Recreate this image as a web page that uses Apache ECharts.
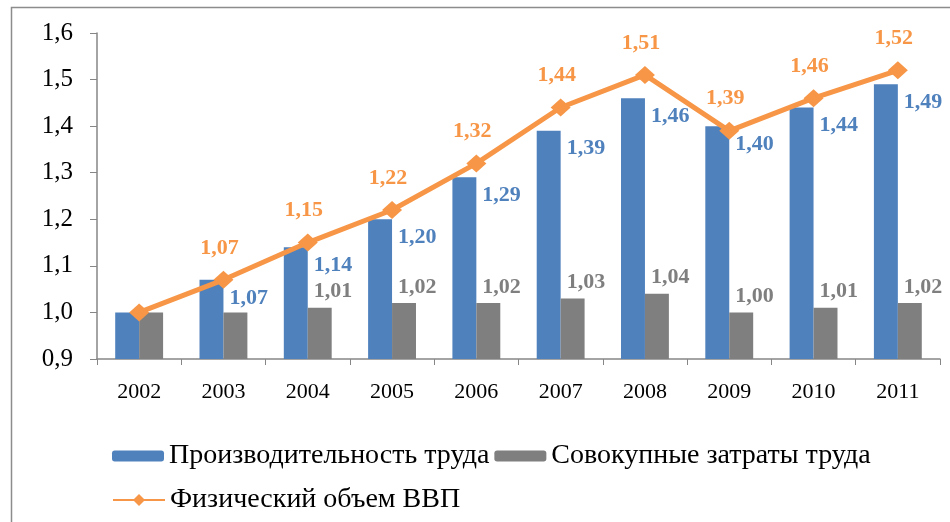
<!DOCTYPE html>
<html>
<head>
<meta charset="utf-8">
<script src="https://cdn.jsdelivr.net/npm/echarts@6/dist/echarts.min.js"></script>
<style>
  html, body { margin: 0; padding: 0; background: #fff; }
  #chart { width: 950px; height: 522px; }
</style>
</head>
<body>
<div id="chart"></div>
<script>
// данные
const years = ["2002", "2003", "2004", "2005", "2006", "2007", "2008", "2009", "2010", "2011"];
const productivity = [1.00, 1.07, 1.14, 1.20, 1.29, 1.39, 1.46, 1.40, 1.44, 1.49];
const laborCosts = [1.00, 1.00, 1.01, 1.02, 1.02, 1.03, 1.04, 1.00, 1.01, 1.02];
const gdpVolume = [1.00, 1.07, 1.15, 1.22, 1.32, 1.44, 1.51, 1.39, 1.46, 1.52];
// у первых столбцов подписей нет
const productivityLabelFrom = 1;
const laborLabelFrom = 2;
const gdpLabelFrom = 1;

const serif = "Liberation Serif";
const fmt = (v) => v.toFixed(2).replace(".", ",");

let myEchart = echarts.init(document.getElementById("chart"));
let option = {
  animation: false,
  textStyle: { fontFamily: serif },
  graphic: [
    {
      type: "rect",
      shape: { x: 11.5, y: 7.5, width: 960, height: 540 },
      style: { fill: "none", stroke: "#8c8c8c", lineWidth: 1.5 }
    }
  ],
  grid: { left: 97, right: 10, top: 33, bottom: 163 },
  legend: [
    {
      data: ["Производительность труда", "Совокупные затраты труда"],
      left: 107, top: 437,
      itemWidth: 52, itemHeight: 11, itemGap: 5,
      textStyle: { fontFamily: serif, fontSize: 28, color: "#000" }
    },
    {
      data: ["Физический объем ВВП"],
      left: 107, top: 481,
      itemWidth: 52, itemHeight: 15,
      textStyle: { fontFamily: serif, fontSize: 28, color: "#000" }
    }
  ],
  xAxis: {
    type: "category",
    data: years,
    axisLine: { lineStyle: { color: "#868686", width: 1.5 } },
    axisTick: { show: true, alignWithLabel: false, length: 6, lineStyle: { color: "#868686" } },
    axisLabel: { fontFamily: serif, fontSize: 22, color: "#000", margin: 22 }
  },
  yAxis: {
    type: "value",
    min: 0.9, max: 1.6, interval: 0.1,
    axisLine: { show: true, lineStyle: { color: "#868686", width: 1.5 } },
    axisTick: { show: true, length: 7, lineStyle: { color: "#868686" } },
    splitLine: { show: false },
    axisLabel: {
      fontFamily: serif, fontSize: 25, color: "#000", margin: 24,
      formatter: (v) => v.toFixed(1).replace(".", ",")
    }
  },
  series: [
    {
      name: "Производительность труда",
      type: "bar",
      barWidth: "28.4%",
      barGap: "0%",
      itemStyle: { color: "#4F81BD" },
      data: productivity.map((v, i) => ({
        value: v,
        label: { show: i >= productivityLabelFrom }
      })),
      label: {
        position: ["100%", 18],
        align: "left", verticalAlign: "middle",
        offset: [6, 0],
        fontFamily: serif, fontSize: 22, fontWeight: "bold", color: "#4F81BD",
        formatter: (p) => fmt(p.value)
      },
      z: 2
    },
    {
      name: "Совокупные затраты труда",
      type: "bar",
      barWidth: "28.4%",
      barGap: "0%",
      itemStyle: { color: "#7F7F7F" },
      data: laborCosts.map((v, i) => ({
        value: v,
        label: { show: i >= laborLabelFrom }
      })),
      label: {
        position: [6, -16],
        align: "left", verticalAlign: "middle",
        fontFamily: serif, fontSize: 22, fontWeight: "bold", color: "#7F7F7F",
        formatter: (p) => fmt(p.value)
      },
      z: 2
    },
    {
      name: "Физический объем ВВП",
      type: "line",
      symbol: "diamond",
      symbolSize: [20, 18],
      lineStyle: { color: "#F79646", width: 5 },
      itemStyle: { color: "#F79646" },
      data: gdpVolume.map((v, i) => ({
        value: v,
        label: { show: i >= gdpLabelFrom }
      })),
      label: {
        position: "top", distance: 12, offset: [-4, 0],
        fontFamily: serif, fontSize: 22, fontWeight: "bold", color: "#F79646",
        formatter: (p) => fmt(p.value)
      },
      z: 5
    }
  ]
};
myEchart.setOption(option);
</script>
</body>
</html>
